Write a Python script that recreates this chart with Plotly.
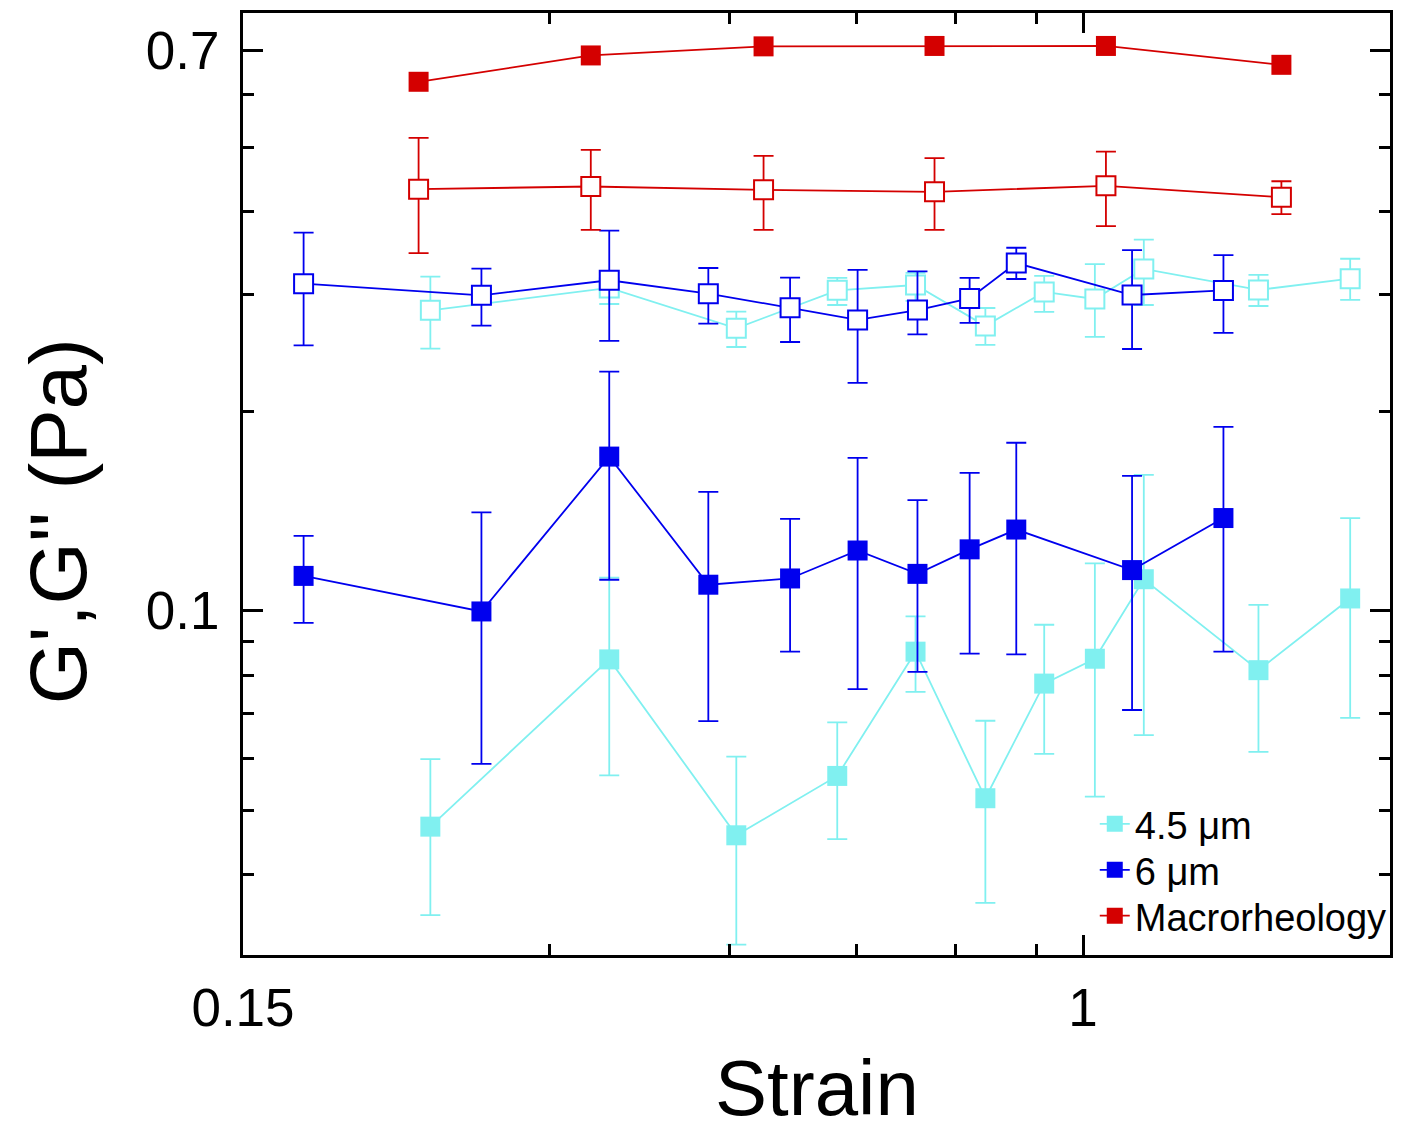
import numpy as np
import plotly.graph_objects as go

# ---------------- data ----------------
strain_6um = [0.172, 0.257, 0.343, 0.429, 0.516, 0.601, 0.688, 0.774, 0.860, 1.117, 1.373]
strain_45um = [0.229, 0.343, 0.457, 0.574, 0.685, 0.802, 0.916, 1.027, 1.147, 1.486, 1.828]
strain_macro = [0.223, 0.329, 0.486, 0.715, 1.053, 1.565]

# Macrorheology
macro_Gp = [0.627, 0.687, 0.709, 0.710, 0.710, 0.665]
macro_Gpp = [0.432, 0.436, 0.431, 0.428, 0.437, 0.420]
macro_Gpp_hi = [0.516, 0.495, 0.485, 0.481, 0.492, 0.444]
macro_Gpp_lo = [0.346, 0.375, 0.375, 0.375, 0.380, 0.396]

# 6 um
b6_Gp = [0.1129, 0.0998, 0.1708, 0.1095, 0.1119, 0.1233, 0.1137, 0.1238, 0.1326, 0.1152, 0.1380]
b6_Gp_hi = [0.1297, 0.1407, 0.2293, 0.1511, 0.1376, 0.1700, 0.1469, 0.1614, 0.1792, 0.1597, 0.1893]
b6_Gp_lo = [0.0959, 0.0588, 0.1114, 0.0682, 0.0868, 0.0762, 0.0809, 0.0862, 0.0860, 0.0709, 0.0868]
b6_Gpp = [0.3112, 0.2989, 0.3149, 0.3006, 0.2862, 0.2744, 0.2840, 0.2956, 0.3343, 0.2992, 0.3040]
b6_Gpp_hi = [0.3715, 0.3278, 0.3741, 0.3286, 0.3178, 0.3264, 0.3247, 0.3175, 0.3525, 0.3497, 0.3437]
b6_Gpp_lo = [0.2513, 0.2690, 0.2551, 0.2709, 0.2542, 0.2206, 0.2610, 0.2716, 0.3163, 0.2481, 0.2623]

# 4.5 um
b45_Gp = [0.0473, 0.0845, 0.0459, 0.0564, 0.0868, 0.0522, 0.0777, 0.0847, 0.1116, 0.0814, 0.1044]
b45_Gp_hi = [0.0598, 0.1122, 0.0603, 0.0679, 0.0981, 0.0683, 0.0953, 0.1179, 0.1603, 0.1021, 0.1380]
b45_Gp_lo = [0.0348, 0.0565, 0.0314, 0.0453, 0.0755, 0.0363, 0.0609, 0.0525, 0.0650, 0.0613, 0.0690]
b45_Gpp = [0.2837, 0.3066, 0.2666, 0.3041, 0.3098, 0.2688, 0.3024, 0.2951, 0.3275, 0.3045, 0.3167]
b45_Gpp_hi = [0.3189, 0.3230, 0.2824, 0.3175, 0.3230, 0.2860, 0.3197, 0.3331, 0.3627, 0.3208, 0.3393]
b45_Gpp_lo = [0.2484, 0.2900, 0.2498, 0.2890, 0.2931, 0.2516, 0.2821, 0.2587, 0.2890, 0.2880, 0.2941]

series_names = ["4.5 μm", "6 μm", "Macrorheology"]

x_tickvals = [0.15, 1]
x_ticktext = ["0.15", "1"]
x_minor = [0.3, 0.45, 0.6, 0.75, 0.9]
y_tickvals = [0.1, 0.7]
y_ticktext = ["0.1", "0.7"]
y_minor = [0.04, 0.05, 0.06, 0.07, 0.08, 0.09, 0.2, 0.3, 0.4, 0.5, 0.6]

# ---------------- styling ----------------
CYAN = "#80F0F0"
BLUE = "#0000EE"
RED = "#D40000"
FONT = "Liberation Sans, Arial, sans-serif"


def err(v, hi, lo):
    v = np.array(v)
    return dict(type="data", symmetric=False,
                array=(np.array(hi) - v).tolist(),
                arrayminus=(v - np.array(lo)).tolist())


def trace(x, y, color, name, filled, e=None, legend=None):
    marker = dict(symbol="square", size=20, color=color, line=dict(width=0))
    if not filled:
        marker = dict(symbol="square", size=19, color="white", line=dict(color=color, width=2))
    t = go.Scatter(x=x, y=y, mode="lines+markers", name=name,
                   showlegend=legend is not None,
                   line=dict(color=color, width=1.8), marker=marker)
    if legend is not None:
        t.legend = legend
    if e is not None:
        t.error_y = dict(**e, color=color, thickness=1.8, width=10)
    return t


fig = go.Figure()
# 4.5 um
fig.add_trace(trace(strain_45um, b45_Gpp, CYAN, "G'' 4.5", False, err(b45_Gpp, b45_Gpp_hi, b45_Gpp_lo)))
fig.add_trace(trace(strain_45um, b45_Gp, CYAN, series_names[0], True, err(b45_Gp, b45_Gp_hi, b45_Gp_lo), "legend"))
# 6 um
fig.add_trace(trace(strain_6um, b6_Gpp, BLUE, "G'' 6", False, err(b6_Gpp, b6_Gpp_hi, b6_Gpp_lo)))
fig.add_trace(trace(strain_6um, b6_Gp, BLUE, series_names[1], True, err(b6_Gp, b6_Gp_hi, b6_Gp_lo), "legend2"))
# Macrorheology
fig.add_trace(trace(strain_macro, macro_Gpp, RED, "G'' macro", False, err(macro_Gpp, macro_Gpp_hi, macro_Gpp_lo)))
fig.add_trace(trace(strain_macro, macro_Gp, RED, series_names[2], True, None, "legend3"))

axis_common = dict(
    showline=True, linecolor="black", linewidth=3, mirror="allticks",
    ticks="inside", ticklen=20, tickwidth=3, tickcolor="black",
    showgrid=False, zeroline=False,
    tickfont=dict(family=FONT, size=53, color="black"),
)

legend_common = dict(x=0.7426, xanchor="left", yanchor="middle",
                     bgcolor="rgba(0,0,0,0)", font=dict(family=FONT, size=38, color="black"))

fig.update_layout(
    width=1387, height=1125,
    margin=dict(l=235, r=2, t=4, b=178),
    paper_bgcolor="white", plot_bgcolor="white",
    font=dict(family=FONT, color="black"),
    xaxis=dict(type="log", range=[np.log10(0.15), np.log10(2.0)],
               tickmode="array", tickvals=x_tickvals, ticktext=x_ticktext,
               ticklabelstandoff=4,
               minor=dict(tickmode="array", tickvals=x_minor, ticks="inside",
                          ticklen=11, tickwidth=3, tickcolor="black"),
               **axis_common),
    yaxis=dict(type="log", range=[np.log10(0.0303), np.log10(0.796)],
               tickmode="array", tickvals=y_tickvals, ticktext=y_ticktext,
               ticklabelstandoff=10,
               minor=dict(tickmode="array", tickvals=y_minor, ticks="inside",
                          ticklen=11, tickwidth=3, tickcolor="black"),
               **axis_common),
    legend=dict(y=0.1389, **legend_common),
    legend2=dict(y=0.0901, **legend_common),
    legend3=dict(y=0.0414, **legend_common),
    annotations=[
        dict(text="Strain", xref="paper", yref="paper", x=0.5, y=-0.141,
             xanchor="center", yanchor="middle", showarrow=False,
             font=dict(family=FONT, size=78, color="black")),
        dict(text="G',G'' (Pa)", xref="paper", yref="paper", x=-0.1609, y=0.461,
             xanchor="center", yanchor="middle", showarrow=False, textangle=-90,
             font=dict(family=FONT, size=80, color="black")),
    ],
)

fig.write_html("out.html")
